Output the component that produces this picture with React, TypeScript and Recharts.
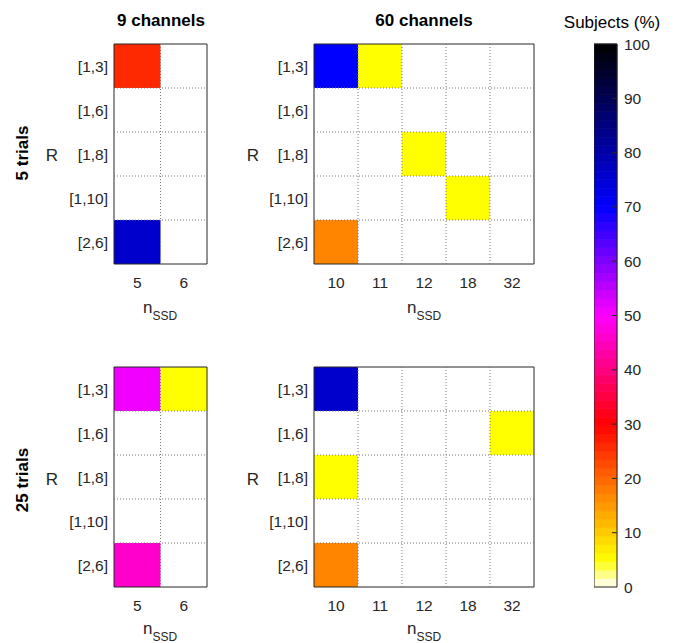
import React from 'react';
import { ScatterChart, Scatter, XAxis, YAxis, ReferenceArea, ReferenceLine } from 'recharts';

const FONT = '"Liberation Sans", Arial, Helvetica, sans-serif';
const AX = '#262626';

// ---- data ----
const rowLabels = ['[1,3]', '[1,6]', '[1,8]', '[1,10]', '[2,6]'];
const cols9 = ['5', '6'];
const cols60 = ['10', '11', '12', '18', '32'];
const colorbarTicks = [0, 10, 20, 30, 40, 50, 60, 70, 80, 90, 100];

// values: subjects (%) per [R row][n_SSD column]
const trials5ch9 = [
  [26, 0],
  [0, 0],
  [0, 0],
  [0, 0],
  [76, 0],
];
const trials5ch60 = [
  [70, 5, 0, 0, 0],
  [0, 0, 0, 0, 0],
  [0, 0, 5, 0, 0],
  [0, 0, 0, 5, 0],
  [17, 0, 0, 0, 0],
];
const trials25ch9 = [
  [51, 5],
  [0, 0],
  [0, 0],
  [0, 0],
  [46, 0],
];
const trials25ch60 = [
  [76, 0, 0, 0, 0],
  [0, 0, 0, 0, 5],
  [5, 0, 0, 0, 0],
  [0, 0, 0, 0, 0],
  [17, 0, 0, 0, 0],
];

// ---- colormap (style) ----
const anchors: [number, number[]][] = [
  [0, [255, 255, 255]],
  [5, [255, 255, 0]],
  [30, [255, 0, 0]],
  [50, [255, 0, 255]],
  [70, [0, 0, 255]],
  [100, [0, 0, 0]],
];
function colorFor(v: number): string {
  for (let i = 0; i < anchors.length - 1; i++) {
    const [a, ca] = anchors[i];
    const [b, cb] = anchors[i + 1];
    if (v <= b) {
      const f = Math.max(0, (v - a) / (b - a));
      const c = ca.map((x, k) => Math.round(x + (cb[k] - x) * f));
      return `rgb(${c[0]},${c[1]},${c[2]})`;
    }
  }
  return 'rgb(0,0,0)';
}
const LEVELS = 64;
const levelIdx = Array.from({ length: LEVELS }, (_, i) => i);

const tickStyle = { fontSize: 15.5, fill: AX, fontFamily: FONT };

type PanelProps = { plotX: number; plotY: number; plotW: number; plotH: number; cols: string[]; values: number[][] };

function Panel({ plotX, plotY, plotW, plotH, cols, values }: PanelProps) {
  const n = cols.length;
  const cells: { x: number; y: number; v: number }[] = [];
  values.forEach((row, r) => row.forEach((v, c) => { if (v > 0) cells.push({ x: c, y: r, v }); }));
  const vLines = cols.slice(1).map((_, i) => i + 0.5);
  const hLines = rowLabels.slice(1).map((_, i) => i + 0.5);
  return (
    <div style={{ position: 'absolute', left: plotX - 70, top: plotY - 10 }}>
      <ScatterChart width={70 + plotW + 10} height={10 + plotH + 30} margin={{ top: 10, right: 10, bottom: 0, left: 0 }}>
        <XAxis type="number" dataKey="x" domain={[-0.5, n - 0.5]} ticks={cols.map((_, i) => i)}
          tickFormatter={(i: number) => cols[i]} axisLine={false} tickLine={false} tickSize={0} tickMargin={13}
          height={30} interval={0} tick={tickStyle} allowDataOverflow />
        <YAxis type="number" dataKey="y" domain={[-0.5, 4.5]} reversed ticks={[0, 1, 2, 3, 4]}
          tickFormatter={(i: number) => rowLabels[i]} axisLine={false} tickLine={false} tickSize={0} tickMargin={6}
          width={70} interval={0} tick={tickStyle} allowDataOverflow />
        {cells.map((c) => (
          <ReferenceArea key={`c${c.x}-${c.y}`} x1={c.x - 0.5} x2={c.x + 0.5} y1={c.y - 0.5} y2={c.y + 0.5}
            fill={colorFor(c.v)} fillOpacity={1} stroke="none" />
        ))}
        {vLines.map((x) => (
          <ReferenceLine key={`v${x}`} x={x} stroke="#777" strokeDasharray="1 2" strokeWidth={1} />
        ))}
        {hLines.map((y) => (
          <ReferenceLine key={`h${y}`} y={y} stroke="#777" strokeDasharray="1 2" strokeWidth={1} />
        ))}
        <ReferenceArea x1={-0.5} x2={n - 0.5} y1={-0.5} y2={4.5} fill="none" fillOpacity={0} stroke={AX} strokeWidth={1} />
        <Scatter data={cells} isAnimationActive={false} shape={() => <g />} />
      </ScatterChart>
    </div>
  );
}

function Colorbar() {
  const plotX = 594, plotY = 44, plotW = 23, plotH = 543;
  return (
    <div style={{ position: 'absolute', left: plotX, top: plotY - 10 }}>
      <ScatterChart width={plotW + 70} height={plotH + 20} margin={{ top: 10, right: 0, bottom: 10, left: 0 }}>
        <XAxis type="number" dataKey="x" domain={[0, 1]} hide />
        <YAxis type="number" dataKey="y" orientation="right" domain={[0, 100]} ticks={colorbarTicks} interval={0}
          axisLine={false} tickLine={false} tickSize={0} tickMargin={7} width={70} tick={tickStyle} />
        {levelIdx.map((i) => {
          const col = colorFor(((i + 0.5) * 100) / LEVELS);
          return (
            <ReferenceArea key={`l${i}`} x1={0} x2={1} y1={(i * 100) / LEVELS} y2={((i + 1) * 100) / LEVELS}
              fill={col} fillOpacity={1} stroke={col} strokeWidth={0.8} />
          );
        })}
        {colorbarTicks.slice(1, -1).map((t) => (
          <ReferenceLine key={`t${t}`} segment={[{ x: 0.78, y: t }, { x: 1, y: t }]} stroke={AX} strokeWidth={1} />
        ))}
        <ReferenceArea x1={0} x2={1} y1={0} y2={100} fill="none" fillOpacity={0} stroke={AX} strokeWidth={1} />
        <Scatter data={[{ x: 0.5, y: 50 }]} isAnimationActive={false} shape={() => <g />} />
      </ScatterChart>
    </div>
  );
}

function NssdLabel({ x, y }: { x: number; y: number }) {
  return (
    <text x={x} y={y} textAnchor="middle" fontFamily={FONT} fontSize={17} fill={AX}>
      <tspan>n</tspan>
      <tspan dy={7} fontSize={12}>SSD</tspan>
    </text>
  );
}

export default function App() {
  return (
    <div style={{ position: 'absolute', left: 0, top: 0, width: 687, height: 643, background: '#fff', overflow: 'hidden' }}>
      <Panel plotX={114} plotY={44} plotW={93} plotH={220} cols={cols9} values={trials5ch9} />
      <Panel plotX={314} plotY={44} plotW={220} plotH={220} cols={cols60} values={trials5ch60} />
      <Panel plotX={114} plotY={367} plotW={93} plotH={220} cols={cols9} values={trials25ch9} />
      <Panel plotX={314} plotY={367} plotW={220} plotH={220} cols={cols60} values={trials25ch60} />
      <Colorbar />
      <svg width={687} height={643} style={{ position: 'absolute', left: 0, top: 0, pointerEvents: 'none' }}>
        <text x={161} y={26} textAnchor="middle" fontFamily={FONT} fontSize={17} fontWeight="bold" fill="#000">9 channels</text>
        <text x={424} y={26} textAnchor="middle" fontFamily={FONT} fontSize={17} fontWeight="bold" fill="#000">60 channels</text>
        <text x={28} y={153} textAnchor="middle" transform="rotate(-90 28 153)" fontFamily={FONT} fontSize={17} fontWeight="bold" fill="#000">5 trials</text>
        <text x={28} y={480} textAnchor="middle" transform="rotate(-90 28 480)" fontFamily={FONT} fontSize={17} fontWeight="bold" fill="#000">25 trials</text>
        <text x={52} y={161} textAnchor="middle" fontFamily={FONT} fontSize={17} fill={AX}>R</text>
        <text x={253} y={161} textAnchor="middle" fontFamily={FONT} fontSize={17} fill={AX}>R</text>
        <text x={52} y={485} textAnchor="middle" fontFamily={FONT} fontSize={17} fill={AX}>R</text>
        <text x={253} y={485} textAnchor="middle" fontFamily={FONT} fontSize={17} fill={AX}>R</text>
        <NssdLabel x={160} y={313} />
        <NssdLabel x={424} y={313} />
        <NssdLabel x={160} y={634} />
        <NssdLabel x={424} y={634} />
        <text x={612} y={28} textAnchor="middle" fontFamily={FONT} fontSize={17} fill="#000">Subjects (%)</text>
      </svg>
    </div>
  );
}
